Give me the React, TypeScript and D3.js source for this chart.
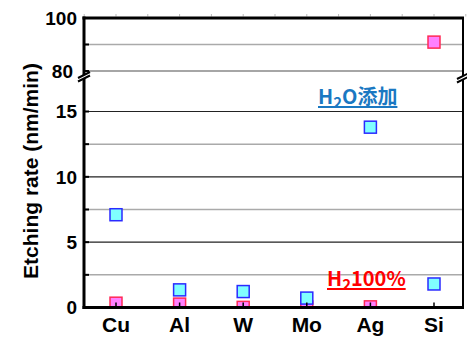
import React, { useLayoutEffect, useRef, useState } from "react";
import * as d3 from "d3";

// Etching rate per metal, two gas conditions
const categories = ["Cu", "Al", "W", "Mo", "Ag", "Si"];
const h2oRates = [7.1, 1.35, 1.22, 0.72, 13.8, 1.8];
const h2Rates = [0.33, 0.26, 0.01, 0.03, 0.05, 90.9];

const lowerMajorTicks = [0, 5, 10, 15];
const lowerMinorTicks = [2.5, 7.5, 12.5];
const upperMajorTicks = [80, 100];
const upperMinorTicks = [90];

const W = 467;
const H = 338;
const left = 84;
const right = 463;
const top = 18;
const bottom = 307.5;
const breakY = 71;

const FONT = "'Liberation Sans', Arial, sans-serif";
const CJK = "'Noto Sans CJK JP', 'Liberation Sans', sans-serif";

const x = d3.scalePoint<string>().domain(categories).range([116, 434]);
const yLow = d3.scaleLinear().domain([0, 15]).range([bottom, 111.5]);
const yHigh = d3.scaleLinear().domain([80, 100]).range([breakY, top]);
const yOf = (v: number) => (v >= 80 ? yHigh(v) : yLow(v));

const MS = 12;

function Underlined({ children, x0, y0, color, size }: any) {
  const ref = useRef<SVGTextElement>(null);
  const [w, setW] = useState(0);
  useLayoutEffect(() => {
    if (ref.current) setW(ref.current.getBBox().width);
  }, []);
  return (
    <g>
      <text ref={ref} x={x0} y={y0} fill={color} fontSize={size} fontWeight="bold" fontFamily={CJK}>
        {children}
      </text>
      <line x1={x0} x2={x0 + w} y1={y0 + 3} y2={y0 + 3} stroke={color} strokeWidth={1.8} />
    </g>
  );
}

function BreakMark({ cx, cy }: { cx: number; cy: number }) {
  const d = 6;
  const s = 3.5;
  return (
    <g>
      <polygon
        points={`${cx - d},${cy + 3} ${cx + d},${cy - 3} ${cx + d},${cy - 3 + s} ${cx - d},${cy + 3 + s}`}
        fill="white"
      />
      <line x1={cx - d} y1={cy + 3} x2={cx + d} y2={cy - 3} stroke="black" strokeWidth={2} />
      <line x1={cx - d} y1={cy + 3 + s} x2={cx + d} y2={cy - 3 + s} stroke="black" strokeWidth={2} />
    </g>
  );
}

export default function App() {
  const step = x.step();
  const halfTicks: number[] = [];
  for (let i = 0; i < categories.length; i++) {
    const cx = x(categories[i])!;
    halfTicks.push(cx);
    if (i < categories.length - 1) halfTicks.push(cx + step / 2);
  }
  halfTicks.push(x(categories[categories.length - 1])! + step / 2);
  halfTicks.unshift(x(categories[0])! - step / 2);

  return (
    <svg width={W} height={H} style={{ position: "absolute", left: 0, top: 0, background: "white" }}>
      <defs>
        <clipPath id="plotClip">
          <rect x={left} y={top} width={right - left} height={bottom - top - 0.5} />
        </clipPath>
      </defs>

      {/* gridlines */}
      {lowerMinorTicks.map((t) => (
        <line key={"lm" + t} x1={left} x2={right} y1={yLow(t)} y2={yLow(t)} stroke="#aaa" strokeWidth={1.5} />
      ))}
      {lowerMajorTicks
        .filter((t) => t > 0)
        .map((t) => (
          <line key={"lM" + t} x1={left} x2={right} y1={yLow(t)} y2={yLow(t)} stroke="#222" strokeWidth={1.2} />
        ))}
      {upperMinorTicks.map((t) => (
        <line key={"um" + t} x1={left} x2={right} y1={yHigh(t)} y2={yHigh(t)} stroke="#aaa" strokeWidth={1.5} />
      ))}
      <line x1={left} x2={right} y1={yHigh(80)} y2={yHigh(80)} stroke="#888" strokeWidth={1.5} />

      {/* markers */}
      <g clipPath="url(#plotClip)">
        {h2Rates.map((v, i) => (
          <rect
            key={"h2" + i}
            x={x(categories[i])! - MS / 2}
            y={yOf(v) - MS / 2}
            width={MS}
            height={MS}
            fill="#ff80ff"
            stroke="#ff2a55"
            strokeWidth={1.5}
          />
        ))}
        {h2oRates.map((v, i) => (
          <rect
            key={"h2o" + i}
            x={x(categories[i])! - MS / 2}
            y={yOf(v) - MS / 2}
            width={MS}
            height={MS}
            fill="#80ffff"
            stroke="#2a2aff"
            strokeWidth={1.5}
          />
        ))}
      </g>

      {/* top minor ticks */}
      {halfTicks.map((t, i) => (
        <line key={"tt" + i} x1={t} x2={t} y1={top - 1.5} y2={top - 4} stroke="#bbb" strokeWidth={1} />
      ))}
      {/* bottom ticks */}
      {categories.map((c) => (
        <line key={"bt" + c} x1={x(c)!} x2={x(c)!} y1={bottom} y2={bottom - 5} stroke="black" strokeWidth={1.5} />
      ))}

      {/* frame */}
      <line x1={left} x2={left} y1={top - 1.5} y2={bottom + 1.5} stroke="black" strokeWidth={3} />
      <line x1={left - 1.5} x2={right + 1} y1={bottom} y2={bottom} stroke="black" strokeWidth={3} />
      <line x1={left - 1.5} x2={right + 1} y1={top} y2={top} stroke="black" strokeWidth={3} />
      <line x1={right} x2={right} y1={top} y2={bottom} stroke="black" strokeWidth={2} />

      {/* left ticks */}
      {[...lowerMajorTicks, ...lowerMinorTicks].map((t) => (
        <line key={"lt" + t} x1={left} x2={left + 5} y1={yLow(t)} y2={yLow(t)} stroke="black" strokeWidth={2} />
      ))}
      {[...upperMajorTicks, ...upperMinorTicks].map((t) => (
        <line key={"ut" + t} x1={left} x2={left + 5} y1={yHigh(t)} y2={yHigh(t)} stroke="black" strokeWidth={2} />
      ))}

      {/* axis breaks */}
      <BreakMark cx={left} cy={75} />
      <BreakMark cx={right} cy={76} />

      {/* y tick labels */}
      {lowerMajorTicks.map((t) => (
        <text
          key={"yl" + t}
          x={77}
          y={yLow(t)}
          dy="0.36em"
          textAnchor="end"
          fontFamily={FONT}
          fontWeight="bold"
          fontSize={19}
        >
          {t}
        </text>
      ))}
      {upperMajorTicks.map((t) => (
        <text
          key={"yu" + t}
          x={t === 80 ? 73 : 77}
          y={yHigh(t)}
          dy="0.36em"
          textAnchor="end"
          fontFamily={FONT}
          fontWeight="bold"
          fontSize={19}
        >
          {t}
        </text>
      ))}

      {/* x labels */}
      {categories.map((c) => (
        <text key={"xl" + c} x={x(c)!} y={332} textAnchor="middle" fontFamily={FONT} fontWeight="bold" fontSize={21}>
          {c}
        </text>
      ))}

      {/* y title */}
      <text
        transform="translate(30,171) rotate(-90)"
        textAnchor="middle"
        dominantBaseline="central"
        fontFamily={FONT}
        fontWeight="bold"
        fontSize={21}
      >
        Etching rate (nm/min)
      </text>

      {/* series labels */}
      <Underlined x0={318} y0={104} color="#1a78c2" size={20}>
        H<tspan fontSize={15} dy={4}>2</tspan>
        <tspan dy={-4}>O添加</tspan>
      </Underlined>
      <Underlined x0={327} y0={286} color="#ff0000" size={20}>
        H<tspan fontSize={15} dy={4}>2</tspan>
        <tspan dy={-4}>100%</tspan>
      </Underlined>
    </svg>
  );
}
